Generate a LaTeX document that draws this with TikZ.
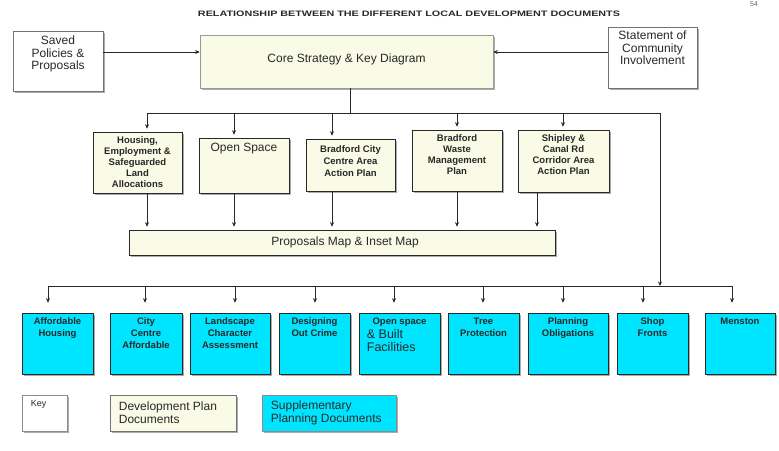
\documentclass[tikz,border=0pt]{standalone}
\usepackage{graphicx}
\usepackage{fontspec}
\setmainfont{Liberation Sans}
\usetikzlibrary{arrows.meta,shadows}
\definecolor{ly}{RGB}{249,251,230}
\definecolor{cy}{RGB}{0,229,255}
\definecolor{ink}{RGB}{40,40,40}
\begin{document}
\begin{tikzpicture}[x=1pt,y=-1pt,
  box/.style={draw=ink, line width=0.6pt, inner sep=0pt, text=ink,
    drop shadow={shadow xshift=2pt,shadow yshift=-2pt,fill=black!55,opacity=0.6}},
  plain/.style={box, fill=white, draw=black!55},
  dpd/.style={box, fill=ly},
  spd/.style={box, fill=cy},
  conn/.style={draw=ink, line width=0.7pt},
  arr/.style={conn, -{Stealth[length=4.5pt,width=4pt]}},
  sm/.style={font=\fontsize{9.5}{11}\selectfont\bfseries, align=center, text=ink, inner sep=0pt},
  bt/.style={font=\fontsize{9.5}{12}\selectfont\bfseries, align=center, text=ink, inner sep=0pt},
  big/.style={font=\fontsize{12}{12.5}\selectfont, align=center, text=ink, inner sep=0pt},
]
\useasboundingbox (0,0) rectangle (779,450);

% title and page number
\node[inner sep=0pt, text=ink] (title) at (409,14) {\resizebox{422pt}{5.5pt}{\bfseries RELATIONSHIP BETWEEN THE DIFFERENT LOCAL DEVELOPMENT DOCUMENTS}};
\node[anchor=north, inner sep=0pt, text=black!60, font=\fontsize{7}{7}\selectfont] (pg) at (754,1) {54};

% top row
\node[plain, minimum width=90pt, minimum height=60pt] (saved) at (58,61) {};
\node[big, anchor=north] (savedt) at ([yshift=-5pt]saved.north) {Saved\\Policies \&\\Proposals};
\node[dpd, draw=black!40, fill=ly, minimum width=293pt, minimum height=53pt] (core) at (346.5,61.5) {};
\node[big] (coret) at (346.5,59) {Core Strategy \& Key Diagram};
\node[plain, minimum width=89pt, minimum height=61pt] (sci) at (652.5,57.5) {};
\node[big, anchor=north] (scit) at ([yshift=-4pt]sci.north) {Statement of\\Community\\Involvement};

\draw[arr] ([yshift=9pt]saved.east) -- ([yshift=9pt]saved.east -| core.west);
\draw[arr] ([yshift=5.5pt]sci.west) -- ([yshift=5.5pt]sci.west -| core.east);

% second row
\node[dpd, minimum width=89pt, minimum height=61pt] (hou) at (137.5,162.5) {};
\node[sm] (hout) at (hou) {Housing,\\Employment \&\\Safeguarded\\Land\\Allocations};
\node[dpd, minimum width=90pt, minimum height=55pt] (os) at (244,165.5) {};
\node[big, anchor=north] (ost) at ([yshift=-5pt]os.north) {Open Space};
\node[dpd, minimum width=89pt, minimum height=52pt] (bcc) at (350.5,165) {};
\node[sm, font=\fontsize{9.5}{12}\selectfont\bfseries, anchor=north] (bcct) at ([yshift=-7pt]bcc.north) {Bradford City\\Centre Area\\Action Plan};
\node[dpd, minimum width=90pt, minimum height=61pt] (wst) at (457,160.5) {};
\node[sm, anchor=north] (wstt) at ([yshift=-5pt]wst.north) {Bradford\\Waste\\Management\\Plan};
\node[dpd, minimum width=91pt, minimum height=62pt] (shp) at (563.5,161) {};
\node[sm, anchor=north] (shpt) at ([yshift=-5pt]shp.north) {Shipley \&\\Canal Rd\\Corridor Area\\Action Plan};

\node[dpd, minimum width=426pt, minimum height=25pt] (prop) at (342,242.5) {};
\node[big] (propt) at (345,242) {Proposals Map \& Inset Map};

% bus 1
\coordinate (k) at (350,113);
\coordinate (a1) at (147,113);
\coordinate (a2) at (234,113);
\coordinate (a3) at (332,113);
\coordinate (a4) at (457,113);
\coordinate (a5) at (563,113);
\coordinate (r1) at (660,113);
\coordinate (r2) at (660,286);
\draw[conn] (core.south -| k) -- (k);
\draw[conn] (a1) -- (r1);
\draw[arr] (r1) -- (r2);
\draw[arr, shorten >=3pt] (a1) -- (a1 |- hou.north);
\draw[arr, shorten >=3pt] (a2) -- (a2 |- os.north);
\draw[arr, shorten >=3pt] (a3) -- (a3 |- bcc.north);
\draw[arr, shorten >=3pt] (a4) -- (a4 |- wst.north);
\draw[arr, shorten >=3pt] (a5) -- (a5 |- shp.north);

\coordinate (p1) at (147,0);
\coordinate (p2) at (234,0);
\coordinate (p3) at (332,0);
\coordinate (p4) at (457,0);
\coordinate (p5) at (537,0);
\draw[arr, shorten >=3pt] (hou.south -| p1) -- (prop.north -| p1);
\draw[arr, shorten >=3pt] (os.south -| p2) -- (prop.north -| p2);
\draw[arr, shorten >=3pt] (bcc.south -| p3) -- (prop.north -| p3);
\draw[arr, shorten >=3pt] (wst.south -| p4) -- (prop.north -| p4);
\draw[arr, shorten >=3pt] (shp.south -| p5) -- (prop.north -| p5);

% bottom row
\node[spd, minimum width=71pt, minimum height=61pt] (ah) at (57.5,343.5) {};
\node[spd, minimum width=72pt, minimum height=61pt] (cca) at (146,343.5) {};
\node[spd, minimum width=80pt, minimum height=61pt] (lca) at (230,343.5) {};
\node[spd, minimum width=71pt, minimum height=61pt] (doc) at (314.5,343.5) {};
\node[spd, minimum width=81pt, minimum height=61pt] (osb) at (399.5,343.5) {};
\node[spd, minimum width=71pt, minimum height=61pt] (tp) at (483.5,343.5) {};
\node[spd, minimum width=80pt, minimum height=61pt] (po) at (568,343.5) {};
\node[spd, minimum width=71pt, minimum height=61pt] (sf) at (652.5,343.5) {};
\node[spd, minimum width=70pt, minimum height=61pt] (men) at (740,343.5) {};

\node[bt, anchor=north] (aht) at ([yshift=-5pt]ah.north) {Affordable\\Housing};
\node[bt, anchor=north] (ccat) at ([yshift=-5pt]cca.north) {City\\Centre\\Affordable};
\node[bt, anchor=north] (lcat) at ([yshift=-5pt]lca.north) {Landscape\\Character\\Assessment};
\node[bt, anchor=north] (doct) at ([yshift=-5pt]doc.north) {Designing\\Out Crime};
\node[bt, font=\fontsize{9.5}{11}\selectfont\bfseries, anchor=north] (osbt1) at ([yshift=-5pt]osb.north) {Open space};
\node[big, font=\fontsize{12.5}{13}\selectfont, anchor=north west, align=left] (osbt2) at ([xshift=8pt,yshift=-17pt]osb.north west) {\& Built\\Facilities};
\node[bt, anchor=north] (tpt) at ([yshift=-5pt]tp.north) {Tree\\Protection};
\node[bt, anchor=north] (pot) at ([yshift=-5pt]po.north) {Planning\\Obligations};
\node[bt, anchor=north] (sft) at ([yshift=-5pt]sf.north) {Shop\\Fronts};
\node[bt, anchor=north] (ment) at ([yshift=-5pt]men.north) {Menston};

% bus 2
\coordinate (b1) at (48,286);
\coordinate (b2) at (145,286);
\coordinate (b3) at (235,286);
\coordinate (b4) at (315,286);
\coordinate (b5) at (394,286);
\coordinate (b6) at (483,286);
\coordinate (b7) at (563,286);
\coordinate (b8) at (643,286);
\coordinate (b9) at (732,286);
\draw[conn] (b1) -- (b9);
\draw[arr, shorten >=10pt] (b1) -- (b1 |- ah.north);
\draw[arr, shorten >=10pt] (b2) -- (b2 |- cca.north);
\draw[arr, shorten >=10pt] (b3) -- (b3 |- lca.north);
\draw[arr, shorten >=10pt] (b4) -- (b4 |- doc.north);
\draw[arr, shorten >=10pt] (b5) -- (b5 |- osb.north);
\draw[arr, shorten >=10pt] (b6) -- (b6 |- tp.north);
\draw[arr, shorten >=10pt] (b7) -- (b7 |- po.north);
\draw[arr, shorten >=10pt] (b8) -- (b8 |- sf.north);
\draw[arr, shorten >=10pt] (b9) -- (b9 |- men.north);

% key
\node[plain, draw=black!45, minimum width=45pt, minimum height=36pt, drop shadow={opacity=0}] (key) at (44.5,413) {};
\node[anchor=north west, inner sep=0pt, text=ink, font=\fontsize{9}{9}\selectfont] (keyt) at ([xshift=9pt,yshift=-5pt]key.north west) {Key};
\node[dpd, draw=black!55, minimum width=126pt, minimum height=36pt, drop shadow={opacity=0}] (kd) at (173,413) {};
\node[big, anchor=west, align=left, font=\fontsize{12}{13}\selectfont] (kdt) at ([xshift=9pt]kd.west) {Development Plan\\Documents};
\node[spd, draw=black!45, minimum width=134pt, minimum height=36pt, drop shadow={opacity=0}] (ks) at (329,413) {};
\node[big, anchor=west, align=left, font=\fontsize{12}{13}\selectfont] (kst) at ([xshift=9pt]ks.west) {Supplementary\\Planning Documents};
\end{tikzpicture}
\end{document}
